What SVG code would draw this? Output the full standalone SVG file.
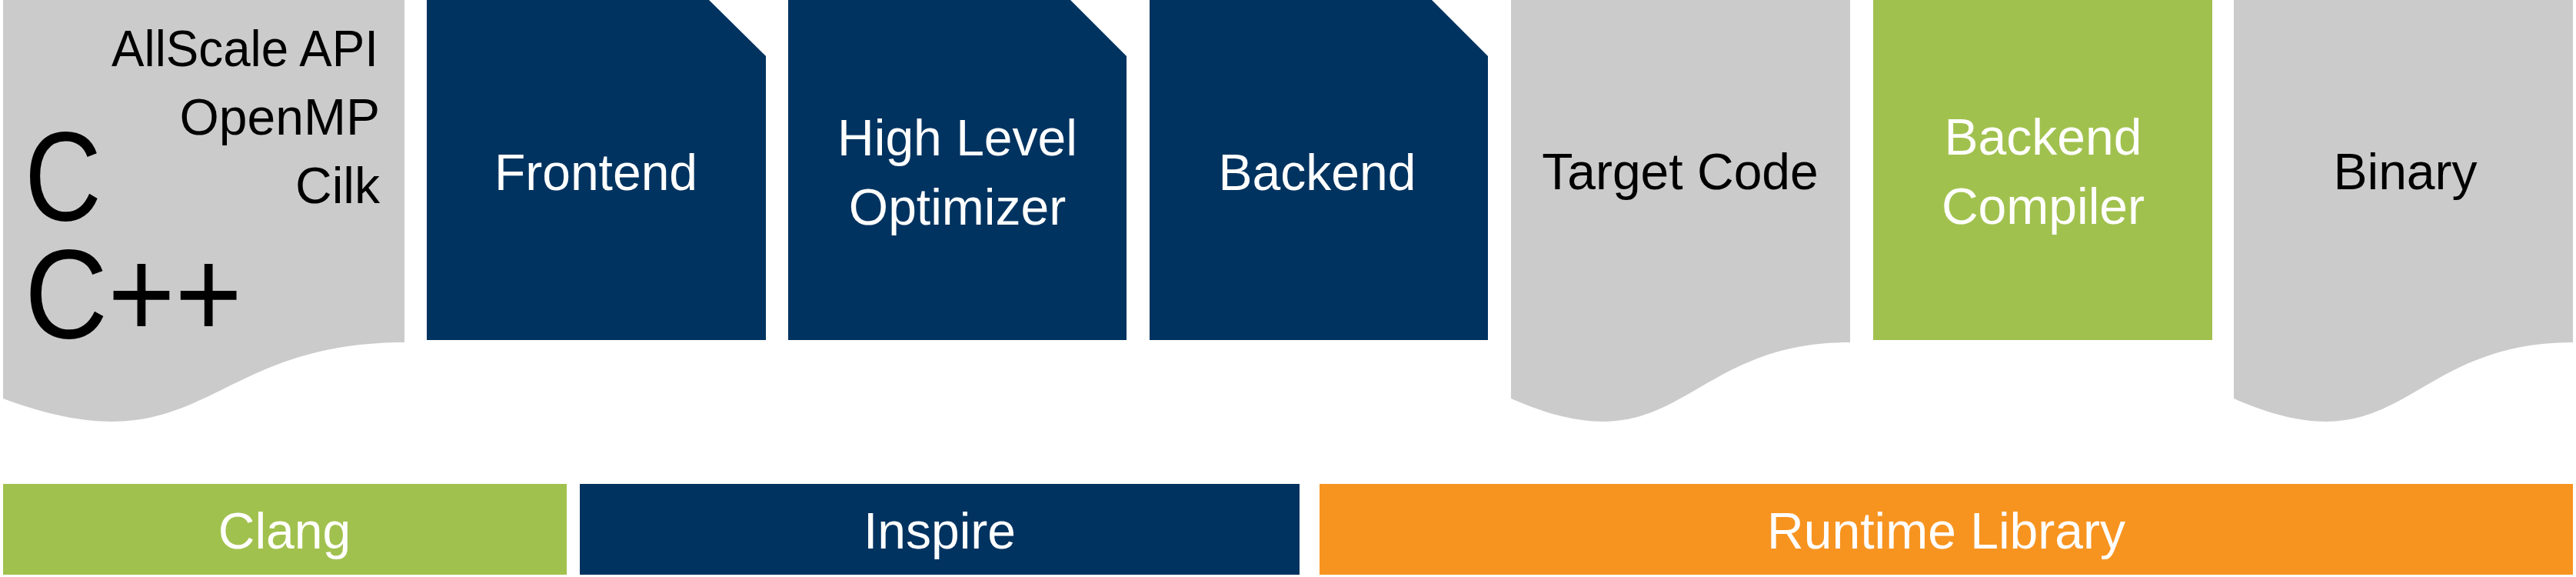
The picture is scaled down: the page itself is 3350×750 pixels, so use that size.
<svg xmlns="http://www.w3.org/2000/svg" width="3350" height="750" viewBox="0 0 3350 750">
<style>
.gray{fill:#cbcbcb}
.navy{fill:#003360}
.green{fill:#a1c14e}
.orange{fill:#f79420}
text{font-family:"Liberation Sans",Arial,sans-serif;font-size:66px}
.w{fill:#ffffff}
.k{fill:#000000}
.c{text-anchor:middle}
.r{text-anchor:end}
</style>
<rect width="3350" height="750" fill="#ffffff"/>
<g id="source">
<path class="gray" d="M4,0 H526 V445 C265,445 265,615 4,518 Z"/>
<text class="k r" x="492" y="86" textLength="347" lengthAdjust="spacingAndGlyphs">AllScale API</text>
<text class="k r" x="494" y="175">OpenMP</text>
<text class="k r" x="494" y="264">Cilk</text>
<text class="k" x="32" y="286" style="font-size:165px" textLength="100" lengthAdjust="spacingAndGlyphs">C</text>
<text class="k" x="32" y="439" style="font-size:165px" textLength="283" lengthAdjust="spacingAndGlyphs">C++</text>
</g>
<g id="frontend">
<path class="navy" d="M555,0 H922 L996,73 V442 H555 Z"/>
<text class="w c" x="775" y="247">Frontend</text>
</g>
<g id="optimizer">
<path class="navy" d="M1025,0 H1392 L1465,73 V442 H1025 Z"/>
<text class="w c" x="1245" y="202">High Level</text>
<text class="w c" x="1245" y="292">Optimizer</text>
</g>
<g id="backend">
<path class="navy" d="M1495,0 H1862 L1935,73 V442 H1495 Z"/>
<text class="w c" x="1713" y="247">Backend</text>
</g>
<g id="target-code">
<path class="gray" d="M1965,0 H2406 V445 C2185.5,445 2185.5,615 1965,518 Z"/>
<text class="k c" x="2185" y="246">Target Code</text>
</g>
<g id="backend-compiler">
<rect class="green" x="2436" y="0" width="441" height="442"/>
<text class="w c" x="2657" y="201">Backend</text>
<text class="w c" x="2657" y="291">Compiler</text>
</g>
<g id="binary">
<path class="gray" d="M2905,0 H3346 V445 C3125.5,445 3125.5,615 2905,518 Z"/>
<text class="k c" x="3128" y="246">Binary</text>
</g>
<g id="clang">
<rect class="green" x="4" y="629" width="733" height="118"/>
<text class="w c" x="370" y="713">Clang</text>
</g>
<g id="inspire">
<rect class="navy" x="754" y="629" width="936" height="118"/>
<text class="w c" x="1222" y="713">Inspire</text>
</g>
<g id="runtime-library">
<rect class="orange" x="1716" y="629" width="1630" height="118"/>
<text class="w c" x="2531" y="713">Runtime Library</text>
</g>
<g id="connectors"/>
</svg>
